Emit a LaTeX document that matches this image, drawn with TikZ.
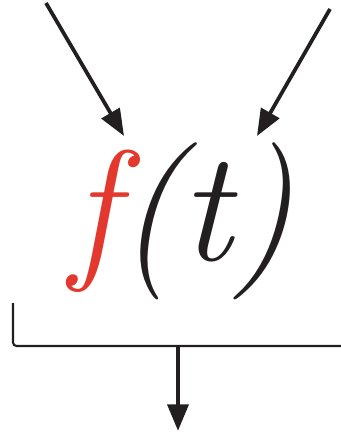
\documentclass[tikz,border=0pt]{standalone}
\usepackage{fontspec}
\usetikzlibrary{arrows.meta}
\definecolor{fred}{RGB}{226,56,46}
\definecolor{ink}{RGB}{35,31,32}

\begin{document}
\begin{tikzpicture}[x=0.03cm,y=-0.03cm,line width=3.2pt,ink,>={Triangle[length=0.8cm,width=0.62cm]}]
  \useasboundingbox (0,0) rectangle (341,434);
  % funcion
  \node[anchor=base,inner sep=0pt] (ft) at (182,260)
    {\itshape\fontsize{134}{134}\selectfont\textcolor{fred}{f}(t)};
  % entradas
  \coordinate (inF) at (46,3);
  \coordinate (tipF) at (124,136);
  \coordinate (inT) at (330,9);
  \coordinate (tipT) at (257,136);
  \draw[->] (inF)--(tipF);
  \draw[->] (inT)--(tipT);
  % llave y salida
  \coordinate (brTop) at (13,303);
  \coordinate (brEnd) at (341,346);
  \coordinate (brMid) at (178,346);
  \coordinate (out) at (178,431);
  \draw[line width=1.8pt,rounded corners=3pt] (brTop)--(13,346)--(brEnd);
  \draw[->,line width=4pt] (brMid)--(out);
\end{tikzpicture}
\end{document}
